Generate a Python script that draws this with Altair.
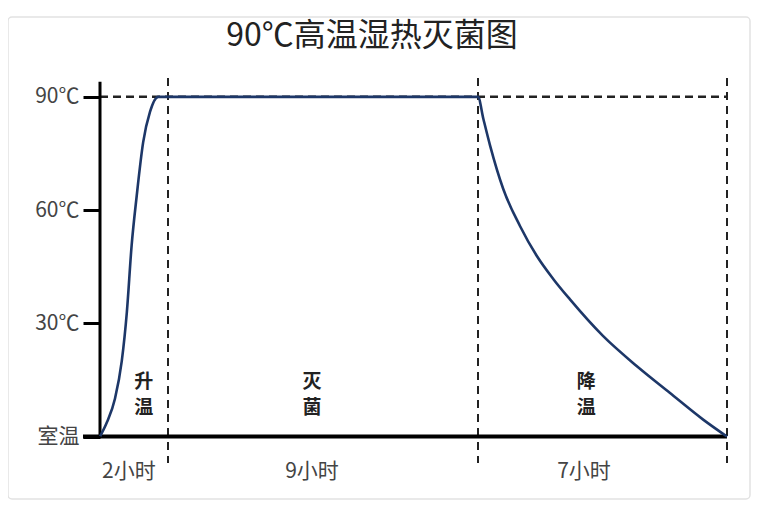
import altair as alt
import pandas as pd

FONT = "Noto Sans CJK SC"

title_text = "90℃高温湿热灭菌图"

# temperature profile (hours, °C above room temp baseline)
hours = [0, 0.2, 0.44, 0.64, 0.79, 0.93, 1.08, 1.27, 1.47, 1.71,
         11, 11.15, 11.34, 11.71, 12.18, 12.65, 13.12, 13.58, 14.52,
         15.46, 16.39, 17.33, 18]
temps = [0, 3.7, 10, 20, 33, 50.6, 63.8, 78, 86, 90,
         90, 84.2, 77.1, 65.6, 55.8, 47.9, 41.7, 36.4, 26.6,
         18.7, 11.6, 4.5, 0]

# phase boundaries (hours)
boundaries = [2, 11, 18]
sterilize_temp = 90

# y axis ticks
y_ticks = [0, 30, 60, 90]
y_labels = ["室温", "30℃", "60℃", "90℃"]

# phase names inside the plot (written vertically, one character per line)
phase_names = ["升温", "灭菌", "降温"]
phase_x = [1.29, 6.18, 14.04]
phase_line_y = [14.4, 7.6]

# duration labels under the axis
duration_labels = ["2小时", "9小时", "7小时"]
duration_x = [0.85, 6.18, 13.98]
duration_y = [-9.5, -9.5, -9.5]

axis_top = 94
axis_left_start = -0.5

x_scale = alt.Scale(domain=[0, 2, 11, 18], range=[0, 68, 378, 627], nice=False, zero=False)
y_scale = alt.Scale(domain=[-7, 95], nice=False, zero=False)

label_expr = " : ".join(
    f"datum.value == {v} ? '{l}'" for v, l in zip(y_ticks, y_labels)
) + " : ''"

curve_df = pd.DataFrame({"h": hours, "t": temps})
bound_df = pd.DataFrame({"b": boundaries})
hline_df = pd.DataFrame({"x1": [0], "x2": [boundaries[-1]], "y": [sterilize_temp]})
yaxis_df = pd.DataFrame({"x": [0], "y1": [0], "y2": [axis_top]})
xaxis_df = pd.DataFrame({"x1": [axis_left_start], "x2": [boundaries[-1]], "y": [0]})
phase_rows = []
for name, px in zip(phase_names, phase_x):
    for ch, py in zip(name, phase_line_y):
        phase_rows.append({"x": px, "y": py, "ch": ch})
phase_df = pd.DataFrame(phase_rows)
dur_df = pd.DataFrame({"x": duration_x, "y": duration_y, "name": duration_labels})
one = pd.DataFrame({"a": [0]})

card = alt.Chart(one).mark_rect(
    fill="white", stroke="#e2e2e2", strokeWidth=1.5, cornerRadius=4
).encode(x=alt.value(-92), x2=alt.value(650), y=alt.value(-61), y2=alt.value(421))

title = alt.Chart(one).mark_text(
    text=title_text, font=FONT, fontSize=32, color="#222", align="center", baseline="middle"
).encode(x=alt.value(272), y=alt.value(-42))

vlines = alt.Chart(bound_df).mark_rule(
    color="#222", strokeWidth=2, strokeDash=[8, 6]
).encode(x=alt.X("b:Q", scale=x_scale, axis=None))

hline = alt.Chart(hline_df).mark_rule(
    color="#222", strokeWidth=2.5, strokeDash=[8, 5]
).encode(
    x=alt.X("x1:Q", scale=x_scale, axis=None), x2="x2:Q",
    y=alt.Y("y:Q", scale=y_scale, axis=None),
)

yaxis_line = alt.Chart(yaxis_df).mark_rule(color="black", strokeWidth=3).encode(
    x=alt.X("x:Q", scale=x_scale, axis=None),
    y=alt.Y("y1:Q", scale=y_scale, axis=None), y2="y2:Q",
)

xaxis_line = alt.Chart(xaxis_df).mark_rule(color="black", strokeWidth=4).encode(
    x=alt.X("x1:Q", scale=x_scale, axis=None), x2="x2:Q",
    y=alt.Y("y:Q", scale=y_scale, axis=None),
)

curve = alt.Chart(curve_df).mark_line(
    color="#1d3768", strokeWidth=2.6, interpolate="monotone"
).encode(
    x=alt.X("h:Q", scale=x_scale, axis=None),
    y=alt.Y("t:Q", scale=y_scale, axis=alt.Axis(
        values=y_ticks, labelExpr=label_expr, domain=False, grid=False,
        tickColor="black", tickWidth=3, tickSize=17, labelPadding=4,
        labelFont=FONT, labelFontSize=21, labelColor="#444", title=None,
        zindex=2, orient="left",
    )),
)

phases = alt.Chart(phase_df).mark_text(
    font=FONT, fontSize=19, fontWeight="bold", color="#222",
    align="center", baseline="middle",
).encode(
    x=alt.X("x:Q", scale=x_scale, axis=None),
    y=alt.Y("y:Q", scale=y_scale, axis=None),
    text="ch:N",
)

durations = alt.Chart(dur_df).mark_text(
    font=FONT, fontSize=21, color="#444", align="center", baseline="middle",
).encode(
    x=alt.X("x:Q", scale=x_scale, axis=None),
    y=alt.Y("y:Q", scale=y_scale, axis=None),
    text="name:N",
)

chart = alt.layer(
    card, title, vlines, hline, yaxis_line, xaxis_line, curve, phases, durations
).resolve_axis(y="independent").properties(
    width=627, height=385,
    autosize=alt.AutoSizeParams(type="none"),
    padding={"left": 92, "top": 70, "right": 40, "bottom": 40},
    background="white",
).configure_view(stroke=None)

chart.save("out.html", embed_options={"renderer": "svg", "actions": False})
